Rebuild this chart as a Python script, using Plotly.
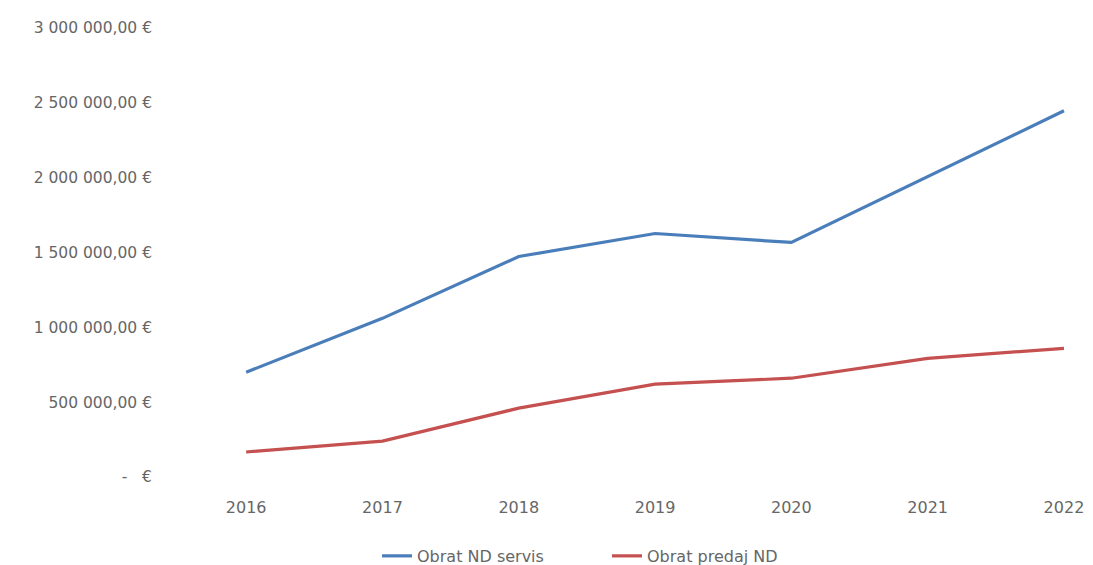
import plotly.graph_objects as go

years = [2016, 2017, 2018, 2019, 2020, 2021, 2022]
obrat_servis = [700000, 1060000, 1473000, 1627000, 1567000, 2007000, 2447000]
obrat_predaj = [167000, 240000, 460000, 620000, 660000, 793000, 860000]

y_tickvals = [0, 500000, 1000000, 1500000, 2000000, 2500000, 3000000]
y_ticktext = ["-   €", "500 000,00 €", "1 000 000,00 €", "1 500 000,00 €",
              "2 000 000,00 €", "2 500 000,00 €", "3 000 000,00 €"]

font_family = "DejaVu Sans, Liberation Sans, Arial, sans-serif"
grey = "#666666"

fig = go.Figure()
fig.add_trace(go.Scatter(x=years, y=obrat_servis, mode="lines", name="Obrat ND servis",
                         line=dict(color="#4a7ebb", width=3.2)))
fig.add_trace(go.Scatter(x=years, y=obrat_predaj, mode="lines", name="Obrat predaj ND",
                         line=dict(color="#c4504f", width=3.2)))

fig.update_layout(
    width=1093, height=565,
    margin=dict(l=178, r=0, t=28, b=88),
    paper_bgcolor="white", plot_bgcolor="white",
    font=dict(family=font_family, size=15, color=grey),
    showlegend=True,
    legend=dict(orientation="h", x=0.2175, xanchor="left", yref="container",
                y=0.016, yanchor="middle", font=dict(size=16, color=grey),
                itemwidth=30, entrywidth=185, entrywidthmode="pixels"),
    xaxis=dict(range=[2015.5, 2022.213], tickvals=years, ticktext=[str(y) for y in years],
               showgrid=False, zeroline=False, showline=False, ticks="",
               ticklabelstandoff=19, tickfont=dict(size=16, color=grey)),
    yaxis=dict(range=[0, 3000000], tickvals=y_tickvals, ticktext=y_ticktext,
               showgrid=False, zeroline=False, showline=False, ticks="",
               ticklabelstandoff=25, tickfont=dict(size=15.5, color=grey)),
)

fig.write_html("out.html")
